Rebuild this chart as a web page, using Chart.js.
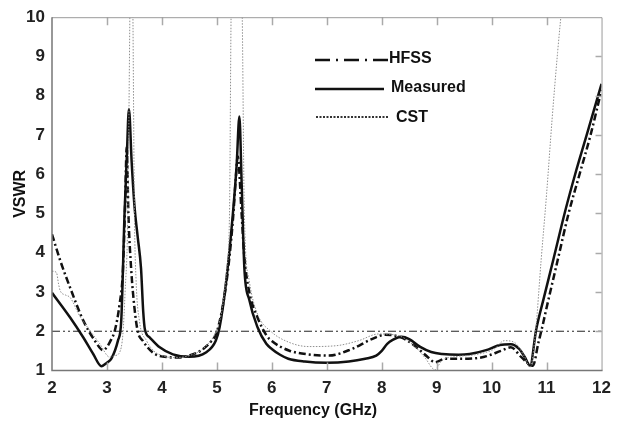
<!DOCTYPE html>
<html>
<head>
<meta charset="utf-8">
<script src="https://cdn.jsdelivr.net/npm/chart.js@4.4.1/dist/chart.umd.min.js"></script>
<style>
  body { margin: 0; background: #fff; }
  canvas { display: block; }
</style>
</head>
<body>
<canvas id="vswrChart" width="619" height="422"></canvas>
<script>
/* VSWR vs frequency: HFSS, measured and CST */

var measFreq = [2.0, 2.33, 2.57, 2.75, 2.9, 3.0, 3.08, 3.2, 3.26, 3.32, 3.36, 3.40, 3.45, 3.50, 3.56, 3.62, 3.66, 3.69, 3.78, 3.96, 4.2, 4.5, 4.8, 4.98, 5.05, 5.17, 5.29, 5.36, 5.41, 5.45, 5.50, 5.59, 5.74, 5.9, 6.0, 6.15, 6.3, 6.6, 7.0, 7.4, 7.7, 7.9, 8.0, 8.1, 8.2, 8.36, 8.5, 8.7, 8.9, 9.1, 9.4, 9.6, 9.9, 10.15, 10.35, 10.5, 10.6, 10.7, 10.81, 10.95, 11.12, 11.34, 11.52, 11.73, 12.0];
var measVswr = [2.98, 2.35, 1.84, 1.42, 1.11, 1.2, 1.3, 1.76, 2.27, 5.0, 6.4, 7.66, 6.3, 5.2, 4.4, 3.6, 2.5, 2.05, 1.84, 1.59, 1.41, 1.35, 1.46, 1.76, 2.1, 3.28, 4.97, 6.24, 7.47, 5.82, 3.62, 2.8, 2.1, 1.68, 1.55, 1.4, 1.3, 1.23, 1.2, 1.23, 1.3, 1.38, 1.5, 1.68, 1.78, 1.86, 1.8, 1.6, 1.47, 1.42, 1.4, 1.42, 1.52, 1.65, 1.67, 1.55, 1.35, 1.12, 2.04, 2.85, 3.81, 5.07, 6.0, 7.0, 8.3];

var hfssFreq = [2.0, 2.15, 2.33, 2.57, 2.78, 2.93, 3.0, 3.08, 3.14, 3.23, 3.29, 3.33, 3.36, 3.39, 3.44, 3.5, 3.56, 3.65, 3.84, 4.1, 4.3, 4.5, 4.7, 4.9, 5.0, 5.17, 5.29, 5.34, 5.38, 5.45, 5.5, 5.59, 5.74, 5.9, 6.0, 6.31, 6.67, 7.04, 7.46, 7.82, 8.06, 8.36, 8.6, 8.84, 8.97, 9.15, 9.57, 9.87, 10.17, 10.35, 10.54, 10.75, 10.85, 10.92, 11.0, 11.2, 11.4, 11.6, 11.8, 12.0];
var hfssVswr = [4.47, 3.8, 3.11, 2.27, 1.76, 1.52, 1.6, 1.8, 2.0, 2.69, 3.53, 5.2, 6.7, 5.0, 3.6, 2.6, 2.0, 1.76, 1.45, 1.34, 1.33, 1.38, 1.5, 1.75, 1.98, 3.2, 4.8, 5.8, 6.45, 5.0, 3.9, 3.0, 2.35, 1.9, 1.75, 1.51, 1.41, 1.38, 1.55, 1.8, 1.91, 1.84, 1.63, 1.34, 1.21, 1.3, 1.3, 1.35, 1.5, 1.59, 1.34, 1.12, 1.7, 2.1, 2.6, 3.8, 5.0, 6.0, 7.0, 8.15];

var cstFreq = [2.0, 2.08, 2.12, 2.15, 2.25, 2.33, 2.5, 2.7, 2.87, 3.05, 3.15, 3.23, 3.29, 3.33, 3.38, 3.42, 3.445, 3.47, 3.5, 3.53, 3.59, 3.72, 3.85, 4.0, 4.2, 4.5, 4.8, 5.0, 5.1, 5.18, 5.23, 5.26, 5.36, 5.46, 5.5, 5.59, 5.74, 5.98, 6.31, 6.67, 7.16, 7.58, 7.94, 8.3, 8.55, 8.78, 8.97, 9.09, 9.33, 9.69, 10.05, 10.23, 10.41, 10.6, 10.7, 10.8, 10.9, 11.0, 11.1, 11.2, 11.3];
var cstVswr = [3.53, 3.5, 3.2, 3.03, 2.92, 2.86, 2.4, 2.0, 1.68, 1.34, 1.38, 1.46, 1.93, 3.0, 5.0, 10.5, 14, 10.5, 5.0, 3.3, 2.27, 1.76, 1.5, 1.38, 1.33, 1.38, 1.62, 2.05, 2.6, 3.6, 5.0, 10.2, 14, 10.2, 5.0, 3.28, 2.44, 2.0, 1.72, 1.61, 1.63, 1.76, 1.93, 1.89, 1.68, 1.34, 1.02, 1.25, 1.35, 1.4, 1.55, 1.76, 1.72, 1.35, 1.08, 2.0, 3.8, 5.5, 7.4, 9.1, 10.6];

var xTicks = [2, 3, 4, 5, 6, 7, 8, 9, 10, 11, 12];
var yTicks = [1, 2, 3, 4, 5, 6, 7, 8, 9, 10];
var threshold = 2;

var fontFam = "'Liberation Sans', Arial, sans-serif";

function pts(xs, ys) {
  return xs.map(function(x, i) { return { x: x, y: ys[i] }; });
}

// frame with inward ticks, legend and x title
var decor = {
  id: 'decor',
  afterDatasetsDraw: function(chart) {
    var c = chart.ctx, a = chart.chartArea;
    var xs = chart.scales.x, ys = chart.scales.y;
    c.save();
    c.strokeStyle = '#aaa';
    c.lineWidth = 1.5;
    c.beginPath();
    xTicks.slice(1, -1).forEach(function(v) {
      var px = Math.round(xs.getPixelForValue(v)) + 0.5;
      c.moveTo(px, a.bottom); c.lineTo(px, a.bottom - 8);
      c.moveTo(px, a.top); c.lineTo(px, a.top + 8);
    });
    yTicks.slice(1, -1).forEach(function(v) {
      var py = Math.round(ys.getPixelForValue(v)) + 0.5;
      c.moveTo(a.right, py); c.lineTo(a.right - 6, py);
    });
    c.stroke();

    c.lineWidth = 1;
    c.strokeStyle = '#9a9a9a';
    c.beginPath();
    c.moveTo(a.left, a.top + 0.5); c.lineTo(a.right + 0.5, a.top + 0.5);
    c.lineTo(a.right + 0.5, a.bottom);
    c.stroke();
    c.lineWidth = 1.5;
    c.strokeStyle = '#777';
    c.beginPath();
    c.moveTo(a.left, a.top); c.lineTo(a.left, a.bottom); c.lineTo(a.right + 1, a.bottom);
    c.stroke();

    // legend
    c.strokeStyle = '#111';
    c.lineWidth = 2.5;
    c.setLineDash([15, 6, 2, 6]);
    c.beginPath(); c.moveTo(315, 60); c.lineTo(388, 60); c.stroke();
    c.setLineDash([]);
    c.beginPath(); c.moveTo(315, 89); c.lineTo(384, 89); c.stroke();
    c.strokeStyle = '#333';
    c.lineWidth = 2;
    c.setLineDash([2, 1.5]);
    c.beginPath(); c.moveTo(316, 117); c.lineTo(388, 117); c.stroke();
    c.setLineDash([]);

    c.fillStyle = '#111';
    c.font = 'bold 16px ' + fontFam;
    c.textBaseline = 'middle';
    c.textAlign = 'left';
    c.fillText('HFSS', 389, 59);
    c.fillText('Measured', 391, 88);
    c.fillText('CST', 396, 118);

    c.textAlign = 'center';
    c.fillText('Frequency (GHz)', 313, 411);
    c.restore();
  }
};

var ctx = document.getElementById('vswrChart').getContext('2d');

var chart = new Chart(ctx, {
  type: 'line',
  data: {
    datasets: [{
      label: 'CST',
      data: pts(cstFreq, cstVswr),
      borderColor: '#8f8f8f',
      borderWidth: 1,
      borderDash: [1.5, 1.5]
    }, {
      label: 'HFSS',
      data: pts(hfssFreq, hfssVswr),
      borderColor: '#111',
      borderWidth: 2.5,
      borderDash: [7, 3, 2, 3]
    }, {
      label: 'Measured',
      data: pts(measFreq, measVswr),
      borderColor: '#111',
      borderWidth: 2.5
    }, {
      label: 'VSWR = 2',
      data: pts([xTicks[0], xTicks[xTicks.length - 1]], [threshold, threshold]),
      borderColor: '#222',
      borderWidth: 1,
      borderDash: [8, 3, 2, 3, 2, 3],
      cubicInterpolationMode: 'default',
      tension: 0
    }]
  },
  options: {
    responsive: false,
    animation: false,
    layout: { padding: { top: 15, right: 15, left: 0, bottom: 0 } },
    elements: {
      point: { radius: 0 },
      line: { cubicInterpolationMode: 'monotone', fill: false }
    },
    plugins: {
      legend: { display: false },
      tooltip: { enabled: false }
    },
    scales: {
      x: {
        type: 'linear',
        min: 2,
        max: 12,
        afterBuildTicks: function(s) { s.ticks = xTicks.map(function(v) { return { value: v }; }); },
        ticks: { color: '#222', padding: 8, font: { family: fontFam, size: 17, weight: 'bold' } },
        grid: { display: false, drawTicks: false },
        border: { display: false },
        afterFit: function(s) { s.height = 51.5; }
      },
      y: {
        min: 1,
        max: 10,
        afterBuildTicks: function(s) { s.ticks = yTicks.map(function(v) { return { value: v }; }); },
        ticks: { color: '#222', padding: 7, font: { family: fontFam, size: 17, weight: 'bold' } },
        grid: { display: false, drawTicks: false },
        border: { display: false },
        title: {
          display: true,
          text: 'VSWR',
          color: '#111',
          padding: { top: 11, bottom: 0 },
          font: { family: fontFam, size: 16, weight: 'bold' }
        },
        afterFit: function(s) { s.width = 52; }
      }
    }
  },
  plugins: [decor]
});
</script>
</body>
</html>
